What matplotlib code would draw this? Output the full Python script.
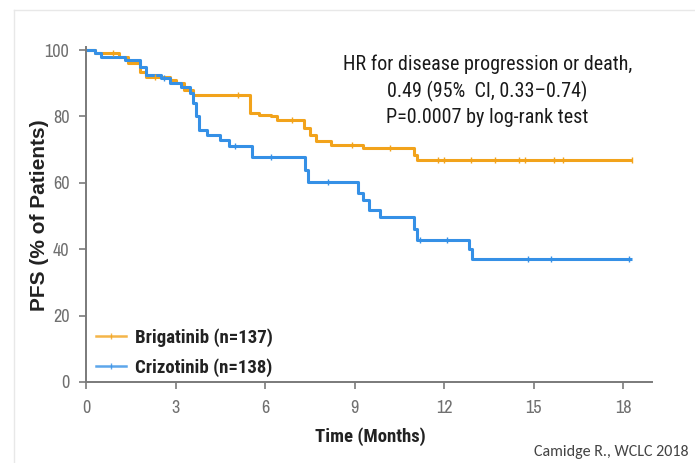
"""Kaplan-Meier PFS curves, brigatinib vs crizotinib (ALTA-1L)."""

import matplotlib.pyplot as plt
from matplotlib.lines import Line2D
import numpy as np

# step curves: (month, PFS %) at each step change
brig_t = [0.0, 0.3, 1.1, 1.4, 1.8, 2.0, 2.8, 3.0, 3.3, 3.6, 5.5, 5.8, 6.2, 6.4, 7.3, 7.5, 7.7, 8.2, 9.3, 11.0, 11.1, 18.3]
brig_s = [100, 99, 98, 96, 93.5, 92, 91, 90, 88, 86.5, 81, 80.5, 80, 79, 76.5, 74.5, 72.5, 71.5, 70.5, 68.5, 66.8, 66.8]
criz_t = [0.0, 0.3, 0.5, 1.3, 1.8, 2.0, 2.5, 2.8, 3.2, 3.5, 3.6, 3.7, 3.8, 4.05, 4.5, 4.8, 5.55, 7.35, 7.45, 9.1, 9.3, 9.5, 9.85, 11.0, 11.1, 12.85, 12.95, 18.3]
criz_s = [100, 99, 98, 97, 95, 92.5, 91.5, 90, 89, 87, 84, 80, 76, 74.5, 73, 71, 67.8, 64, 60.2, 57, 54.8, 51.8, 49.7, 46, 42.8, 40, 37.0, 37.0]

# censoring marks
brig_cens = [0.9, 2.3, 5.1, 6.9, 8.9, 10.2, 11.8, 12.0, 12.9, 13.7, 14.5, 14.7, 15.7, 16.0, 18.3]
criz_cens = [2.6, 5.0, 6.2, 8.1, 11.2, 12.1, 14.8, 15.6, 18.2]

x_ticks = [0, 3, 6, 9, 12, 15, 18]
y_ticks = [0, 20, 40, 60, 80, 100]

labels = ["Brigatinib (n=137)", "Crizotinib (n=138)"]
c_brig = "#F2A31B"
c_criz = "#3590E6"
narrow = ["Archivo Narrow", "Roboto Condensed", "Liberation Sans", "DejaVu Sans"]
cond = ["Roboto Condensed", "Archivo Narrow", "Liberation Sans", "DejaVu Sans"]
arial = ["Liberation Sans", "DejaVu Sans"]


def surv_at(t, times, surv):
    idx = np.searchsorted(times, t, side="right") - 1
    return np.asarray(surv)[idx]


fig = plt.figure(figsize=(6.95, 4.63), dpi=100)
ax = fig.add_axes([86 / 695, 1 - 382 / 463, (652 - 86) / 695, (382 - 46.7) / 463])

ax.step(brig_t, brig_s, where="post", color=c_brig, lw=2.2, solid_capstyle="butt")
ax.step(criz_t, criz_s, where="post", color=c_criz, lw=2.2, solid_capstyle="butt")
ax.plot(brig_cens, surv_at(brig_cens, brig_t, brig_s), "|", color=c_brig, ms=5, mew=1)
ax.plot(criz_cens, surv_at(criz_cens, criz_t, criz_s), "|", color=c_criz, ms=5, mew=1)

ax.set_xlim(0, 18.97)
ax.set_ylim(0, 101)
ax.set_xticks(x_ticks)
ax.set_yticks(y_ticks)
for s in ["top", "right"]:
    ax.spines[s].set_visible(False)
for s in ["left", "bottom"]:
    ax.spines[s].set_color("#7a7a7a")
    ax.spines[s].set_linewidth(1.4)
ax.tick_params(colors="#7a7a7a", length=5, width=1.2, labelsize=13, labelcolor="#707070")
ax.tick_params(axis="x", pad=8)
ax.tick_params(axis="y", pad=7)
for lab in ax.get_xticklabels() + ax.get_yticklabels():
    lab.set_family(narrow)

ax.set_xlabel("Time (Months)", fontsize=13.5, fontweight="bold", family=cond, color="#222222")
ax.xaxis.label.set_va("center")
ax.xaxis.set_label_coords((370 - 86) / 566, (382 - 437) / 335.3)
ax.set_ylabel("PFS (% of Patients)", fontsize=15, fontweight="bold", family=arial, color="#222222")
ax.yaxis.label.set_va("center")
ax.yaxis.set_label_coords((40 - 86) / 566, (382 - 215) / 335.3)

handles = [
    Line2D([], [], color=c_brig, lw=1.8, marker="|", ms=5, alpha=0.8),
    Line2D([], [], color=c_criz, lw=1.8, marker="|", ms=5, alpha=0.8),
]
leg = ax.legend(handles, labels, loc="lower left", bbox_to_anchor=(-0.012, -0.035), frameon=False,
                handlelength=1.6, handletextpad=0.45, labelspacing=0.6,
                prop={"family": cond, "weight": "bold", "size": 13.5})
for t in leg.get_texts():
    t.set_color("#222222")

ax.text((487.5 - 86) / 566, (382 - 55) / 335.3,
        "HR for disease progression or death,\n0.49 (95%  CI, 0.33\u20130.74)\nP=0.0007 by log-rank test",
        transform=ax.transAxes, ha="center", va="top", fontsize=14.5, family=cond,
        color="#1a1a1a", linespacing=1.4)

fig.text(689 / 695, 1 - 452 / 463, "Camidge R., WCLC 2018", ha="right", va="center",
         fontsize=11.5, family=["Carlito", "Lato", "DejaVu Sans"], color="#444444")

# light frame of the slide image
fig.add_artist(Line2D([14 / 695, 1], [1 - 10 / 463] * 2, color="#e8e8e8", lw=1))
fig.add_artist(Line2D([14 / 695] * 2, [0, 1 - 10 / 463], color="#e8e8e8", lw=1))

fig.savefig("out.png", dpi=100)
